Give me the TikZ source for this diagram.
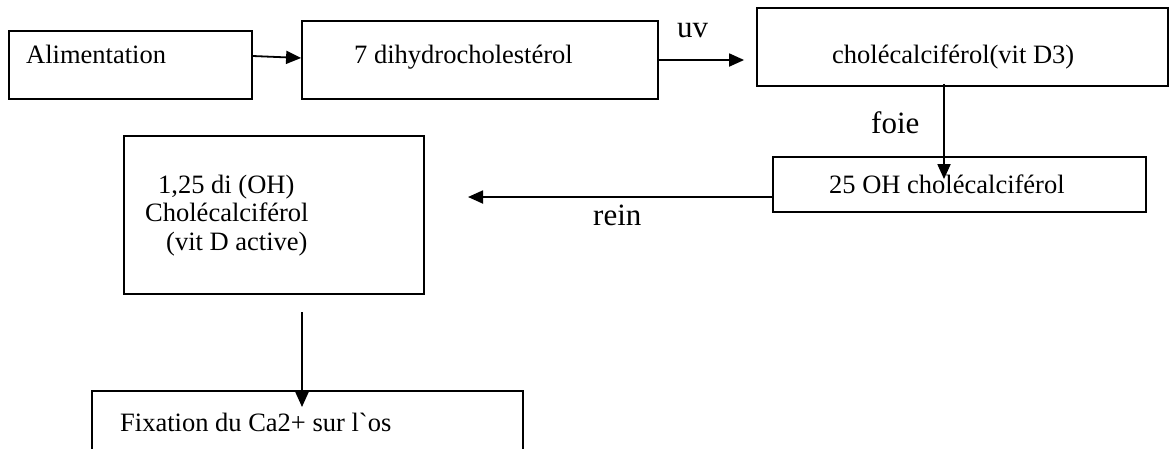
\documentclass[tikz,border=0pt]{standalone}
\usepackage{fontspec}
\newfontfamily\tnr{Liberation Serif}
\usetikzlibrary{arrows.meta,calc}
\begin{document}
\begin{tikzpicture}[x=1pt,y=-1pt,
  box/.style={draw,line width=1.8pt,inner sep=0pt,minimum width=#1},
  txt/.style={inner sep=0pt,anchor=base west,font=\tnr\fontsize{26.5}{30}\selectfont},
  lab/.style={inner sep=0pt,anchor=base west,font=\tnr\fontsize{31}{34}\selectfont},
  arr/.style={line width=1.8pt,-{Triangle[length=15pt,width=13pt]}}]
\clip (0,0) rectangle (1173,448);
% boxes
\node[box=243pt,minimum height=68pt] (ali) at (130.5,65) {};
\node[box=356pt,minimum height=78pt] (dhc) at (480,60) {};
\node[box=411pt,minimum height=78pt] (d3) at (962.5,47) {};
\node[box=373pt,minimum height=55pt] (oh) at (959.5,184.5) {};
\node[box=300pt,minimum height=158pt] (di) at (274,215) {};
\node[box=431pt,minimum height=80pt] (fix) at (307.5,431) {};
% texts
\node[txt] (tali) at (26,63) {Alimentation};
\node[txt] (tdhc) at (354,63) {7 dihydrocholestérol};
\node[txt] (td3) at (832,63) {cholécalciférol(vit D3)};
\node[txt] (toh) at (829,193) {25 OH cholécalciférol};
\node[txt] (tdi1) at (158,193) {1,25 di (OH)};
\node[txt] (tdi2) at (145,221) {Cholécalciférol};
\node[txt] (tdi3) at (166,250) {(vit D active)};
\node[txt] (tfix) at (120,431) {Fixation du Ca2+ sur l`os};
% labels
\node[lab] (luv) at (677,37) {uv};
\node[lab] (lfoie) at (871,133) {foie};
\node[lab] (lrein) at (593,225) {rein};
% free ends
\coordinate (uvend) at ($(d3.west)+(-12,13)$);
\coordinate (reinend) at (468,197);
\coordinate (downstart) at (302,312);
\coordinate (downend) at (302,407);
% connectors
\draw[arr] ($(ali.east)+(0,-9)$) -- ($(dhc.west)+(0,-2)$);
\draw[arr] (dhc.east) -- (uvend);
\draw[arr] ($(d3.south)+(-18.5,-3)$) -- ($(oh.north)+(-15.5,23)$);
\draw[arr] ($(oh.west)+(0,12.5)$) -- (reinend);
\draw[arr] (downstart) -- (downend);
\end{tikzpicture}
\end{document}
